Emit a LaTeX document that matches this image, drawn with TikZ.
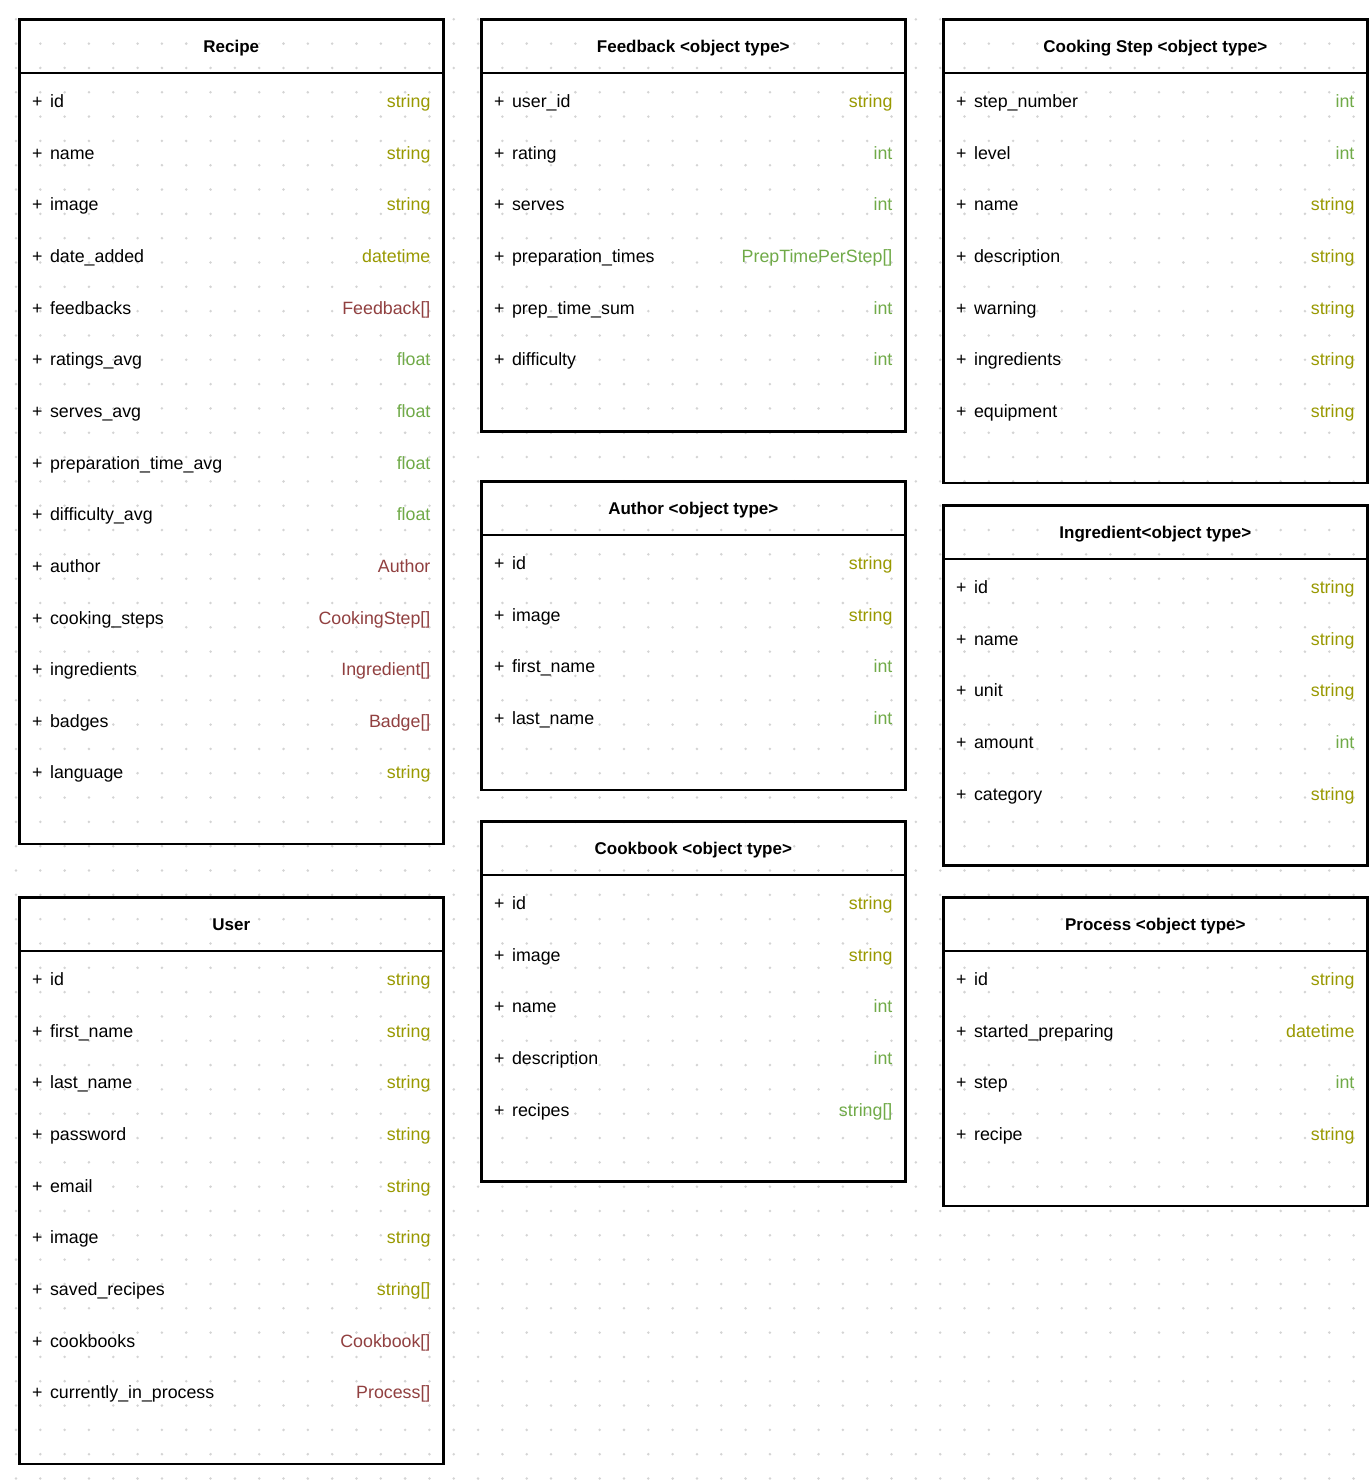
\documentclass[tikz,border=0pt]{standalone}
\usepackage{fontspec}
\setmainfont{Liberation Sans}
\usetikzlibrary{positioning, calc}
\definecolor{strolive}{RGB}{153, 153, 0}
\definecolor{numgreen}{RGB}{112, 170, 72}
\definecolor{refred}{RGB}{145, 64, 64}
\definecolor{griddot}{RGB}{212, 212, 212}

\begin{document}
\begin{tikzpicture}[
  x=1pt, y=1pt,
  classbox/.style={draw, line width=2.6pt, anchor=north west, minimum width=424pt, inner sep=0pt},
  headrule/.style={line width=2.6pt},
  classtitle/.style={anchor=base, inner sep=0pt, font=\fontsize{17}{20}\selectfont\bfseries},
  attr/.style={anchor=base west, inner sep=0pt, font=\fontsize{17.8}{21}\selectfont},
  attrtype/.style={anchor=base east, inner sep=0pt, font=\fontsize{17.8}{21}\selectfont}
]
  \fill[white] (0,0) rectangle (1370,-1484);
  \useasboundingbox (0,0) rectangle (1370,-1484);
  % dotted page grid
  \foreach \gx in {0,...,55}
    \foreach \gy in {0,...,60}
      \fill[griddot] (16+\gx*24.32, -19.3-\gy*24.32) circle (1.4pt);

  % Recipe
  \node[classbox, minimum height=824.8pt] (recipe) at (18,-18) {};
  \draw[headrule] ($(recipe.north west)+(0,-55)$) -- ($(recipe.north east)+(0,-55)$);
  \node[classtitle] (recipe-title) at ($(recipe.north)+(0,-34.5)$) {Recipe};
  \foreach \nm/\ty/\cl [count=\i] in {id/string/strolive, name/string/strolive, image/string/strolive,
      date\_added/datetime/strolive, feedbacks/Feedback[]/refred, ratings\_avg/float/numgreen,
      serves\_avg/float/numgreen, preparation\_time\_avg/float/numgreen, difficulty\_avg/float/numgreen,
      author/Author/refred, cooking\_steps/CookingStep[]/refred, ingredients/Ingredient[]/refred,
      badges/Badge[]/refred, language/string/strolive}{
    \pgfmathsetmacro\ry{-89.5-(\i-1)*51.65}
    \node[attr] (recipe-\i) at ($(recipe.north west)+(14,\ry)$) {+\hspace{7.5pt}\nm};
    \node[attrtype, text=\cl] (recipe-\i-type) at ($(recipe.north east)+(-14,\ry)$) {\ty};
  }

  % Feedback
  \node[classbox, minimum height=412pt] (feedback) at (480,-18) {};
  \draw[headrule] ($(feedback.north west)+(0,-55)$) -- ($(feedback.north east)+(0,-55)$);
  \node[classtitle] (feedback-title) at ($(feedback.north)+(0,-34.5)$) {Feedback <object type>};
  \foreach \nm/\ty/\cl [count=\i] in {user\_id/string/strolive, rating/int/numgreen, serves/int/numgreen,
      preparation\_times/PrepTimePerStep[]/numgreen, prep\_time\_sum/int/numgreen, difficulty/int/numgreen}{
    \pgfmathsetmacro\ry{-89.5-(\i-1)*51.65}
    \node[attr] (feedback-\i) at ($(feedback.north west)+(14,\ry)$) {+\hspace{7.5pt}\nm};
    \node[attrtype, text=\cl] (feedback-\i-type) at ($(feedback.north east)+(-14,\ry)$) {\ty};
  }

  % Cooking Step
  \node[classbox, minimum height=463.6pt] (step) at (942,-18) {};
  \draw[headrule] ($(step.north west)+(0,-55)$) -- ($(step.north east)+(0,-55)$);
  \node[classtitle] (step-title) at ($(step.north)+(0,-34.5)$) {Cooking Step <object type>};
  \foreach \nm/\ty/\cl [count=\i] in {step\_number/int/numgreen, level/int/numgreen, name/string/strolive,
      description/string/strolive, warning/string/strolive, ingredients/string/strolive, equipment/string/strolive}{
    \pgfmathsetmacro\ry{-89.5-(\i-1)*51.65}
    \node[attr] (step-\i) at ($(step.north west)+(14,\ry)$) {+\hspace{7.5pt}\nm};
    \node[attrtype, text=\cl] (step-\i-type) at ($(step.north east)+(-14,\ry)$) {\ty};
  }

  % Author
  \node[classbox, minimum height=308.8pt] (author) at (480,-480) {};
  \draw[headrule] ($(author.north west)+(0,-55)$) -- ($(author.north east)+(0,-55)$);
  \node[classtitle] (author-title) at ($(author.north)+(0,-34.5)$) {Author <object type>};
  \foreach \nm/\ty/\cl [count=\i] in {id/string/strolive, image/string/strolive,
      first\_name/int/numgreen, last\_name/int/numgreen}{
    \pgfmathsetmacro\ry{-89.5-(\i-1)*51.65}
    \node[attr] (author-\i) at ($(author.north west)+(14,\ry)$) {+\hspace{7.5pt}\nm};
    \node[attrtype, text=\cl] (author-\i-type) at ($(author.north east)+(-14,\ry)$) {\ty};
  }

  % Ingredient
  \node[classbox, minimum height=360.4pt] (ingredient) at (942,-504) {};
  \draw[headrule] ($(ingredient.north west)+(0,-55)$) -- ($(ingredient.north east)+(0,-55)$);
  \node[classtitle] (ingredient-title) at ($(ingredient.north)+(0,-34.5)$) {Ingredient<object type>};
  \foreach \nm/\ty/\cl [count=\i] in {id/string/strolive, name/string/strolive, unit/string/strolive,
      amount/int/numgreen, category/string/strolive}{
    \pgfmathsetmacro\ry{-89.5-(\i-1)*51.65}
    \node[attr] (ingredient-\i) at ($(ingredient.north west)+(14,\ry)$) {+\hspace{7.5pt}\nm};
    \node[attrtype, text=\cl] (ingredient-\i-type) at ($(ingredient.north east)+(-14,\ry)$) {\ty};
  }

  % Cookbook
  \node[classbox, minimum height=360.4pt] (cookbook) at (480,-820) {};
  \draw[headrule] ($(cookbook.north west)+(0,-55)$) -- ($(cookbook.north east)+(0,-55)$);
  \node[classtitle] (cookbook-title) at ($(cookbook.north)+(0,-34.5)$) {Cookbook <object type>};
  \foreach \nm/\ty/\cl [count=\i] in {id/string/strolive, image/string/strolive, name/int/numgreen,
      description/int/numgreen, recipes/string[]/numgreen}{
    \pgfmathsetmacro\ry{-89.5-(\i-1)*51.65}
    \node[attr] (cookbook-\i) at ($(cookbook.north west)+(14,\ry)$) {+\hspace{7.5pt}\nm};
    \node[attrtype, text=\cl] (cookbook-\i-type) at ($(cookbook.north east)+(-14,\ry)$) {\ty};
  }

  % User
  \node[classbox, minimum height=566.8pt] (user) at (18,-896) {};
  \draw[headrule] ($(user.north west)+(0,-55)$) -- ($(user.north east)+(0,-55)$);
  \node[classtitle] (user-title) at ($(user.north)+(0,-34.5)$) {User};
  \foreach \nm/\ty/\cl [count=\i] in {id/string/strolive, first\_name/string/strolive, last\_name/string/strolive,
      password/string/strolive, email/string/strolive, image/string/strolive, saved\_recipes/string[]/strolive,
      cookbooks/Cookbook[]/refred, currently\_in\_process/Process[]/refred}{
    \pgfmathsetmacro\ry{-89.5-(\i-1)*51.65}
    \node[attr] (user-\i) at ($(user.north west)+(14,\ry)$) {+\hspace{7.5pt}\nm};
    \node[attrtype, text=\cl] (user-\i-type) at ($(user.north east)+(-14,\ry)$) {\ty};
  }

  % Process
  \node[classbox, minimum height=308.8pt] (process) at (942,-896) {};
  \draw[headrule] ($(process.north west)+(0,-55)$) -- ($(process.north east)+(0,-55)$);
  \node[classtitle] (process-title) at ($(process.north)+(0,-34.5)$) {Process <object type>};
  \foreach \nm/\ty/\cl [count=\i] in {id/string/strolive, started\_preparing/datetime/strolive,
      step/int/numgreen, recipe/string/strolive}{
    \pgfmathsetmacro\ry{-89.5-(\i-1)*51.65}
    \node[attr] (process-\i) at ($(process.north west)+(14,\ry)$) {+\hspace{7.5pt}\nm};
    \node[attrtype, text=\cl] (process-\i-type) at ($(process.north east)+(-14,\ry)$) {\ty};
  }
\end{tikzpicture}
\end{document}
